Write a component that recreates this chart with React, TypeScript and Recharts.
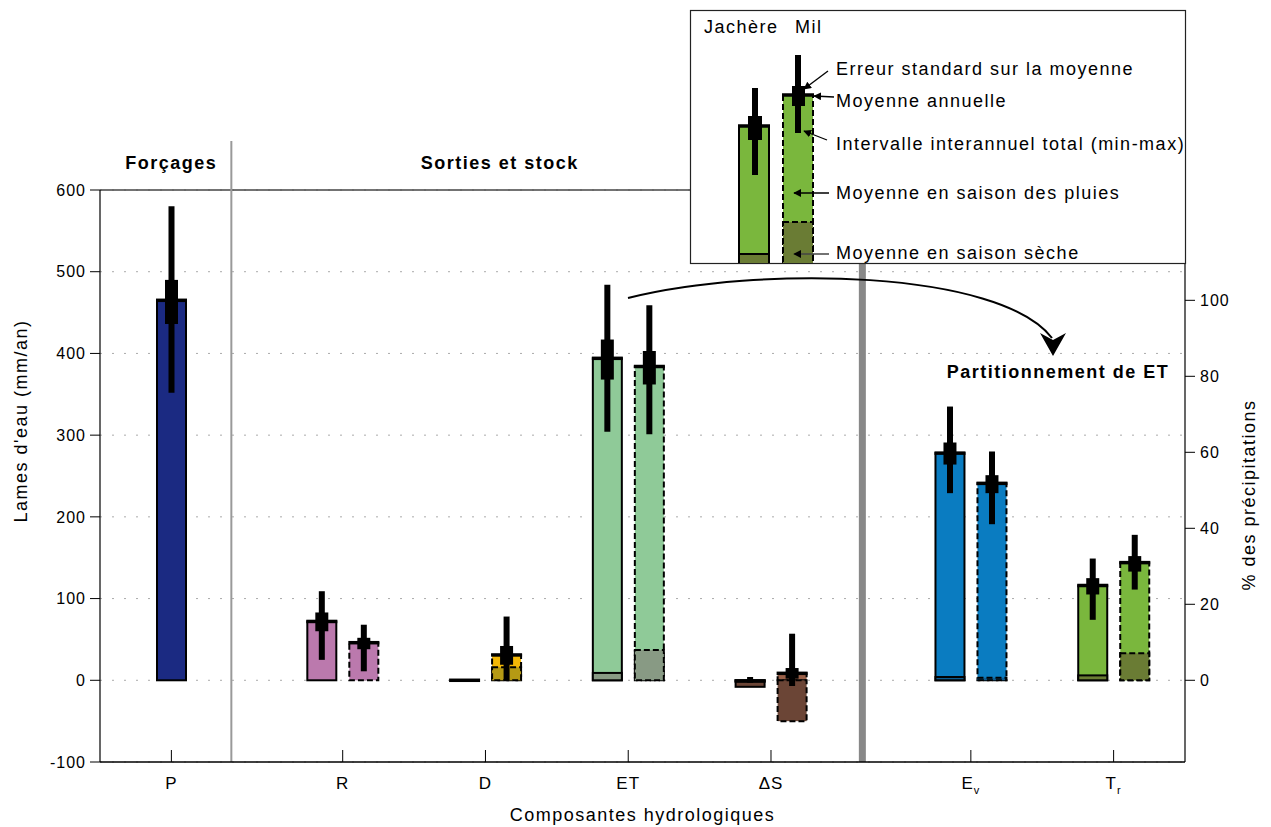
import React from "react";
import {
  ComposedChart,
  Bar,
  Cell,
  XAxis,
  YAxis,
  ErrorBar,
  ReferenceLine,
  ReferenceDot,
  CartesianGrid,
} from "recharts";

const W = 1271;
const H = 827;
const FONT = "'Liberation Sans', Arial, sans-serif";

// categories and where they sit on the (uneven) category axis
const categories = ["P", "R", "D", "ET", "ΔS", "E", "T"];
const subscripts = ["", "", "", "", "", "v", "r"];
const slots = [0, 1.2, 2.2, 3.2, 4.2, 5.6, 6.6];

// forcing: rainfall P (mm/an)
const pMean = 465;
const pMin = 352;
const pMax = 580;
const pSeLow = 436;
const pSeHigh = 490;

// Jachère (fallow), mm/an
const fallowMean = [null, 72, 0, 394, -1, 278, 116];
const fallowDry = [null, 0, 0, 9, -8, 4, 6];
const fallowMin = [null, 25, 0, 304, -3, 229, 74];
const fallowMax = [null, 109, 0, 484, 4, 335, 149];
const fallowSeLow = [null, 60, 0, 368, -2, 264, 105];
const fallowSeHigh = [null, 83, 0, 417, 0, 291, 125];

// Mil (millet), mm/an
const milletMean = [null, 46, 31, 384, 8.5, 241, 144];
const milletDry = [null, 0, 16, 37, -50, 3, 33];
const milletMin = [null, 11, 0, 301, -7, 191, 111];
const milletMax = [null, 68, 78, 459, 57, 280, 178];
const milletSeLow = [null, 38, 19, 362, 2, 229, 133];
const milletSeHigh = [null, 52, 42, 403, 15, 251, 152];

const leftTicks = [-100, 0, 100, 200, 300, 400, 500, 600];
const pctTicks = [0, 20, 40, 60, 80, 100];

const wetColors = ["#1b2a82", "#bb79ad", "#f4b806", "#8fca98", "#9a6048", "#0a7cc1", "#7ab73d"];
const dryColors = ["#1b2a82", "#8a5a80", "#b59a14", "#889a84", "#6b4536", "#0d5d92", "#6a7c34"];

// annotation anchors (category-axis units / mm)
const SEP_FORCING = 0.42;
const SEP_PARTITION = 4.84;

const span = (m: number | null, lo: number | null, hi: number | null) =>
  m == null || lo == null || hi == null ? null : [m - lo, hi - m];

const rows = categories.map((c, i) => ({
  name: c,
  slot: slots[i],
  pMean: i === 0 ? pMean : null,
  pRange: i === 0 ? span(pMean, pMin, pMax) : null,
  pSe: i === 0 ? span(pMean, pSeLow, pSeHigh) : null,
  fMean: fallowMean[i],
  fDry: fallowDry[i],
  fRange: span(fallowMean[i], fallowMin[i], fallowMax[i]),
  fSe: span(fallowMean[i], fallowSeLow[i], fallowSeHigh[i]),
  mMean: milletMean[i],
  mDry: milletDry[i],
  mRange: span(milletMean[i], milletMin[i], milletMax[i]),
  mSe: span(milletMean[i], milletSeLow[i], milletSeHigh[i]),
}));

const X_DOMAIN: [number, number] = [-0.5, 7.1];
const MAIN = "axis0";

function boxShape(key: string, dashed: boolean, meanLine: boolean) {
  return (props: any) => {
    const { x, y, width, height, fill, payload } = props;
    if (!payload || payload[key] == null || !isFinite(x) || !isFinite(y)) return <g />;
    const h = isFinite(height) ? height : 0;
    const top = Math.min(y, y + h);
    return (
      <g>
        {Math.abs(h) > 0 && (
          <rect
            x={x}
            y={top}
            width={width}
            height={Math.abs(h)}
            fill={fill}
            stroke="#000"
            strokeWidth={2}
            strokeDasharray={dashed ? "6 3" : undefined}
          />
        )}
        {meanLine && (
          <line x1={x - 1} x2={x + width + 1} y1={y} y2={y} stroke="#000" strokeWidth={3.5} />
        )}
      </g>
    );
  };
}

function meanShape(key: string) {
  return (props: any) => {
    const { x, y, width, payload } = props;
    if (!payload || payload[key] == null || !isFinite(x) || !isFinite(y)) return <g />;
    return <line x1={x - 1} x2={x + width + 1} y1={y} y2={y} stroke="#000" strokeWidth={3.5} />;
  };
}

function CategoryTick(props: any) {
  const { x, y, payload } = props;
  const i = slots.indexOf(payload.value);
  if (i < 0) return null;
  return (
    <g>
      <line x1={x} x2={x} y1={y} y2={y - 12} stroke="#000" />
      <text x={x} y={y + 27} textAnchor="middle" fontSize={17} fill="#000" letterSpacing={1}>
        {categories[i]}
        {subscripts[i] && (
          <tspan fontSize={11} dy={5}>
            {subscripts[i]}
          </tspan>
        )}
      </text>
    </g>
  );
}

const textStyle = { fontSize: 18, letterSpacing: 1.5, fill: "#000" };

function Overlay() {
  const green = "#7ab73d";
  const olive = "#6a7c34";
  return (
    <svg
      width={W}
      height={H}
      style={{ position: "absolute", left: 0, top: 0, pointerEvents: "none" }}
      fontFamily={FONT}
    >
      <defs>
        <marker id="tip" viewBox="0 0 10 10" refX="9" refY="5" markerWidth="6" markerHeight="6" orient="auto">
          <path d="M0,0 L10,5 L0,10 z" fill="#000" />
        </marker>
        <clipPath id="box">
          <rect x={690} y={10} width={496} height={253} />
        </clipPath>
      </defs>

      {/* ET -> partition arrow */}
      <path d="M628,298 C760,265 1000,270 1052,338" fill="none" stroke="#000" strokeWidth={2} />
      <path d="M1053,356 L1066,333 L1053,340 L1040,333 Z" fill="#000" />

      {/* legend key */}
      <rect x={690.5} y={10.5} width={495} height={253} fill="#fff" stroke="#222" strokeWidth={1.2} />
      <text x={704} y={33} {...textStyle}>Jachère</text>
      <text x={795} y={33} {...textStyle}>Mil</text>
      <g clipPath="url(#box)">
        <rect x={739} y={126} width={30} height={140} fill={green} stroke="#000" strokeWidth={2} />
        <rect x={739} y={254} width={30} height={12} fill={olive} stroke="#000" strokeWidth={2} />
        <line x1={738} x2={770} y1={126} y2={126} stroke="#000" strokeWidth={3.5} />
        <line x1={755} x2={755} y1={88} y2={175} stroke="#000" strokeWidth={6} />
        <rect x={748} y={116} width={14} height={24} fill="#000" />

        <rect x={783} y={95} width={30} height={171} fill={green} stroke="#000" strokeWidth={2} strokeDasharray="6 3" />
        <rect x={783} y={222} width={30} height={44} fill={olive} stroke="#000" strokeWidth={2} strokeDasharray="6 3" />
        <line x1={782} x2={814} y1={95} y2={95} stroke="#000" strokeWidth={3.5} />
        <line x1={798} x2={798} y1={55} y2={133} stroke="#000" strokeWidth={6} />
        <rect x={792} y={86} width={13} height={20} fill="#000" />
      </g>

      <line x1={828} y1={71} x2={804} y2={89} stroke="#000" strokeWidth={1.3} markerEnd="url(#tip)" />
      <line x1={834} y1={97} x2={814} y2={96} stroke="#000" strokeWidth={1.3} markerEnd="url(#tip)" />
      <line x1={827} y1={140} x2={804} y2={131} stroke="#000" strokeWidth={1.3} markerEnd="url(#tip)" />
      <line x1={829} y1={193} x2={794} y2={193} stroke="#000" strokeWidth={1.3} markerEnd="url(#tip)" />
      <line x1={829} y1={254} x2={794} y2={254} stroke="#444" strokeWidth={1.3} markerEnd="url(#tip)" />

      <text x={836} y={75} {...textStyle}>Erreur standard sur la moyenne</text>
      <text x={836} y={107} {...textStyle}>Moyenne annuelle</text>
      <text x={836} y={150} {...textStyle}>Intervalle interannuel total (min-max)</text>
      <text x={836} y={199} {...textStyle}>Moyenne en saison des pluies</text>
      <text x={836} y={259} {...textStyle}>Moyenne en saison sèche</text>
    </svg>
  );
}

const hiddenX = (id: string) => (
  <XAxis xAxisId={id} type="number" dataKey="slot" domain={X_DOMAIN} allowDataOverflow height={0} hide />
);

export default function App() {
  return (
    <div style={{ position: "absolute", left: 0, top: 0, width: W, height: H, background: "#fff", fontFamily: FONT }}>
      <ComposedChart
        width={W}
        height={H}
        data={rows}
        margin={{ top: 190, right: 26, bottom: 0, left: 40 }}
        barGap={13}
        style={{ fontFamily: FONT }}
      >
        <CartesianGrid xAxisId={MAIN} yAxisId="left" vertical={false} stroke="#aaa" strokeDasharray="2 10" />
        <XAxis
          xAxisId={MAIN}
          type="number"
          dataKey="slot"
          domain={X_DOMAIN}
          allowDataOverflow
          ticks={slots}
          interval={0}
          height={65}
          tickLine={false}
          tickSize={0}
          tickMargin={0}
          tick={<CategoryTick />}
          axisLine={{ stroke: "#000", strokeWidth: 1.5 }}
          label={{ value: "Composantes hydrologiques", position: "insideBottom", offset: 6, ...textStyle }}
        />
        {hiddenX("axis1")}
        {hiddenX("axis2")}
        {hiddenX("axis3")}
        <YAxis
          yAxisId="left"
          width={60}
          domain={[-100, 600]}
          allowDataOverflow
          ticks={leftTicks}
          interval={0}
          tickSize={10}
          tickMargin={4}
          tick={{ fill: "#000", fontSize: 16, letterSpacing: 1 }}
          tickLine={{ stroke: "#000" }}
          axisLine={{ stroke: "#000", strokeWidth: 1.2 }}
          label={{
            content: ({ viewBox }: any) => {
              const cx = viewBox.x - 19;
              const cy = viewBox.y + 231;
              return (
                <text
                  x={cx}
                  y={cy}
                  transform={`rotate(-90 ${cx} ${cy})`}
                  textAnchor="middle"
                  dominantBaseline="central"
                  {...textStyle}
                >
                  Lames d'eau (mm/an)
                </text>
              );
            },
          }}
        />
        <YAxis
          yAxisId="right"
          orientation="right"
          width={60}
          domain={[(-100 / pMean) * 100, (600 / pMean) * 100]}
          allowDataOverflow
          ticks={pctTicks}
          interval={0}
          tickSize={10}
          tickMargin={5}
          tick={{ fill: "#000", fontSize: 16, letterSpacing: 1 }}
          tickLine={{ stroke: "#000" }}
          axisLine={{ stroke: "#000", strokeWidth: 1.2 }}
          label={{
            content: ({ viewBox }: any) => {
              const cx = viewBox.x + 64;
              const cy = viewBox.y + 305;
              return (
                <text
                  x={cx}
                  y={cy}
                  transform={`rotate(-90 ${cx} ${cy})`}
                  textAnchor="middle"
                  dominantBaseline="central"
                  {...textStyle}
                >
                  % des précipitations
                </text>
              );
            },
          }}
        />

        <ReferenceLine xAxisId={MAIN} yAxisId="left" y={600} stroke="#444" strokeWidth={1.5} />
        <ReferenceLine
          xAxisId={MAIN}
          yAxisId="left"
          segment={[{ x: SEP_FORCING, y: -100 }, { x: SEP_FORCING, y: 660 }]}
          ifOverflow="visible"
          stroke="#999"
          strokeWidth={2}
        />
        <ReferenceLine
          xAxisId={MAIN}
          yAxisId="left"
          segment={[{ x: SEP_PARTITION, y: -100 }, { x: SEP_PARTITION, y: 600 }]}
          ifOverflow="visible"
          stroke="#888"
          strokeWidth={7}
        />
        <ReferenceDot
          xAxisId={MAIN}
          yAxisId="left"
          x={0}
          y={634}
          r={1}
          fill="none"
          stroke="none"
          ifOverflow="visible"
          label={{ value: "Forçages", position: "center", ...textStyle, fontWeight: 700 }}
        />
        <ReferenceDot
          xAxisId={MAIN}
          yAxisId="left"
          x={2.3}
          y={634}
          r={1}
          fill="none"
          stroke="none"
          ifOverflow="visible"
          label={{ value: "Sorties et stock", position: "center", ...textStyle, fontWeight: 700 }}
        />
        <ReferenceDot
          xAxisId={MAIN}
          yAxisId="left"
          x={6.21}
          y={378}
          r={1}
          fill="none"
          stroke="none"
          ifOverflow="visible"
          label={{ value: "Partitionnement de ET", position: "center", ...textStyle, fontWeight: 700 }}
        />

        {/* annual means (rainy-season colour) */}
        <Bar xAxisId={MAIN} yAxisId="left" dataKey="fMean" barSize={29} isAnimationActive={false} shape={boxShape("fMean", false, false)}>
          {rows.map((r, i) => (
            <Cell key={r.name} fill={wetColors[i]} />
          ))}
        </Bar>
        <Bar xAxisId={MAIN} yAxisId="left" dataKey="mMean" barSize={29} isAnimationActive={false} shape={boxShape("mMean", true, false)}>
          {rows.map((r, i) => (
            <Cell key={r.name} fill={wetColors[i]} />
          ))}
        </Bar>

        {/* dry-season part */}
        <Bar xAxisId="axis1" yAxisId="left" dataKey="fDry" barSize={29} isAnimationActive={false} shape={boxShape("fDry", false, false)}>
          {rows.map((r, i) => (
            <Cell key={r.name} fill={dryColors[i]} />
          ))}
        </Bar>
        <Bar xAxisId="axis1" yAxisId="left" dataKey="mDry" barSize={29} isAnimationActive={false} shape={boxShape("mDry", true, false)}>
          {rows.map((r, i) => (
            <Cell key={r.name} fill={dryColors[i]} />
          ))}
        </Bar>

        {/* mean line + min-max + standard error */}
        <Bar xAxisId="axis2" yAxisId="left" dataKey="fMean" barSize={29} fill="none" isAnimationActive={false} shape={meanShape("fMean")}>
          <ErrorBar dataKey="fRange" width={0} strokeWidth={6} stroke="#000" isAnimationActive={false} />
          <ErrorBar dataKey="fSe" width={0} strokeWidth={13} stroke="#000" isAnimationActive={false} />
        </Bar>
        <Bar xAxisId="axis2" yAxisId="left" dataKey="mMean" barSize={29} fill="none" isAnimationActive={false} shape={meanShape("mMean")}>
          <ErrorBar dataKey="mRange" width={0} strokeWidth={6} stroke="#000" isAnimationActive={false} />
          <ErrorBar dataKey="mSe" width={0} strokeWidth={13} stroke="#000" isAnimationActive={false} />
        </Bar>

        {/* rainfall */}
        <Bar xAxisId="axis3" yAxisId="left" dataKey="pMean" barSize={29} fill={wetColors[0]} isAnimationActive={false} shape={boxShape("pMean", false, true)}>
          <ErrorBar dataKey="pRange" width={0} strokeWidth={6} stroke="#000" isAnimationActive={false} />
          <ErrorBar dataKey="pSe" width={0} strokeWidth={13} stroke="#000" isAnimationActive={false} />
        </Bar>
      </ComposedChart>
      <Overlay />
    </div>
  );
}
